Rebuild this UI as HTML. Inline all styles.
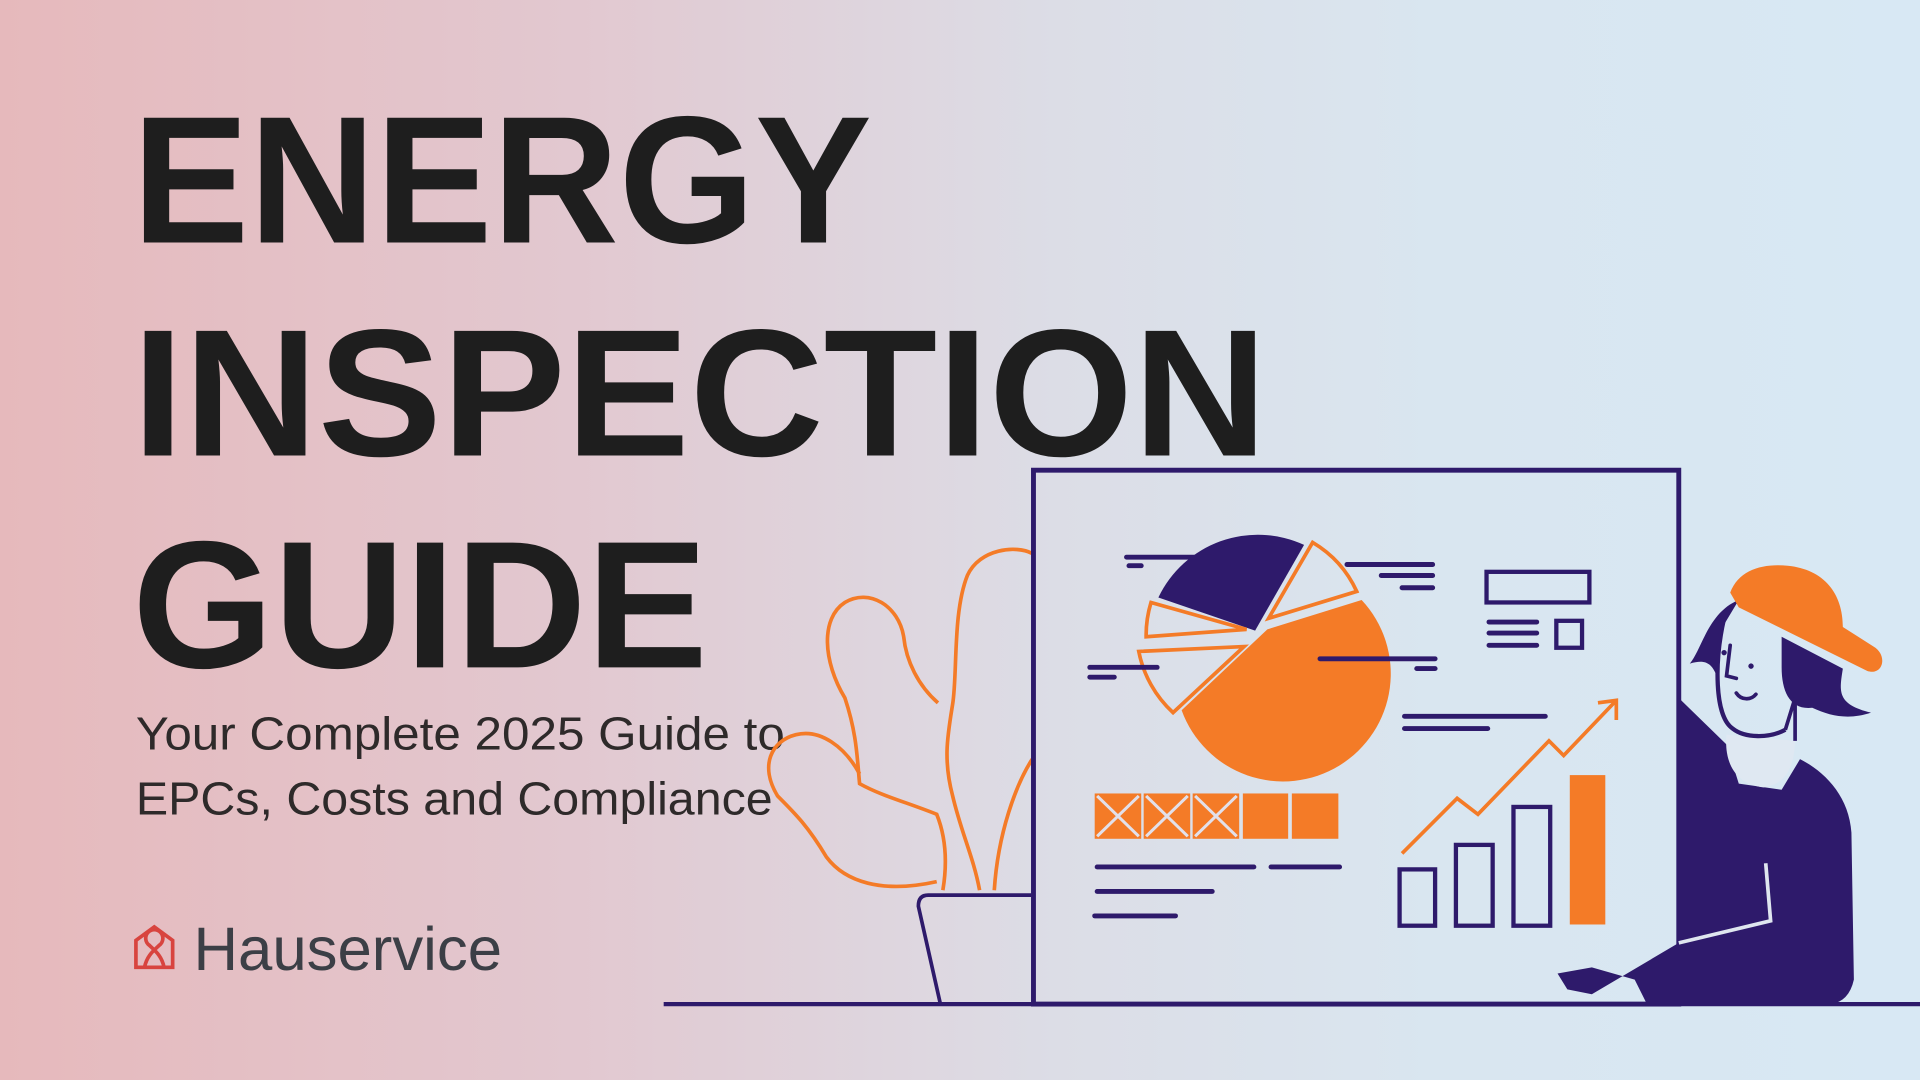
<!DOCTYPE html>
<html><head><meta charset="utf-8"><style>
html,body{margin:0;padding:0;width:1920px;height:1080px;overflow:hidden}
body{background:linear-gradient(90deg,#e6b9bc 0%,#e2c8d0 30%,#dcdde6 55%,#d9e6f0 75%,#d8e8f4 100%)}
svg{position:absolute;left:0;top:0}
</style></head><body>
<svg width="1920" height="1080" viewBox="0 0 1568 882" xmlns="http://www.w3.org/2000/svg">
<g font-family="Liberation Sans, sans-serif">
<text x="108" y="198" font-size="148" font-weight="bold" fill="#1e1e1e" textLength="604" lengthAdjust="spacingAndGlyphs">ENERGY</text>
<text x="108" y="372" font-size="148" font-weight="bold" fill="#1e1e1e" textLength="927" lengthAdjust="spacingAndGlyphs">INSPECTION</text>
<text x="108" y="545" font-size="148" font-weight="bold" fill="#1e1e1e" textLength="470" lengthAdjust="spacingAndGlyphs">GUIDE</text>
<text x="111" y="612" font-size="38" fill="#2e2a2a" textLength="530" lengthAdjust="spacingAndGlyphs">Your Complete 2025 Guide to</text>
<text x="111" y="665" font-size="38" fill="#2e2a2a" textLength="520" lengthAdjust="spacingAndGlyphs">EPCs, Costs and Compliance</text>
<text x="158" y="792" font-size="50" fill="#3c3f46" textLength="252" lengthAdjust="spacingAndGlyphs">Hauservice</text>
</g>
<g fill="none" stroke="#d8443f" stroke-width="3">
<path d="M111 790 V768 L126 757 L141 768 V790 Z"/>
<path d="M118 790 C120 780 126 776 130 772 A7 7 0 1 0 122 772 C126 776 132 780 134 790"/>
</g>
<!-- plant -->
<g fill="none" stroke="#f47b27" stroke-width="3">
<path d="M843 452 C830 445 800 448 790 470 C778 500 782 550 778 575 C774 600 770 620 778 650 C785 680 795 700 800 727"/>
<path d="M843 620 C830 640 815 680 812 727"/>
<path d="M766 574 C750 560 740 540 738 520 C734 495 710 480 690 492 C670 505 672 540 690 570 C700 600 700 620 702 640 C720 650 740 655 765 665 C775 690 772 715 770 727"/>
<path d="M702 632 C690 610 670 595 650 600 C630 605 620 625 635 650 C650 665 660 675 675 700 C690 720 720 730 765 720"/>
</g>
<!-- pot -->
<path d="M842 731 H758 Q750 731 750 740 L768 820" fill="none" stroke="#2e1a6b" stroke-width="3"/>
<!-- floor -->
<line x1="542" y1="820" x2="1568" y2="820" stroke="#2e1a6b" stroke-width="3.5"/>
<!-- board -->
<rect x="844" y="384" width="527" height="436" fill="none" stroke="#2e1a6b" stroke-width="4"/>
<!-- pie -->
<path d="M1025 515 L946 488 A90 90 0 0 1 1065 445 Z" fill="#2e1a6b"/>
<path d="M1035 514 L1112 490 A88 88 0 1 1 965 580 Z" fill="#f47b27"/>
<path d="M1036 505 L1072 443 A90 90 0 0 1 1108 483 Z" fill="none" stroke="#f47b27" stroke-width="3"/>
<path d="M1018 514 L940 492 A92 92 0 0 0 936 520 Z" fill="none" stroke="#f47b27" stroke-width="3"/>
<path d="M1016 528 L930 532 A92 92 0 0 0 958 582 Z" fill="none" stroke="#f47b27" stroke-width="3"/>
<g stroke="#2e1a6b" stroke-width="4" stroke-linecap="round">
<line x1="920" y1="455" x2="990" y2="455"/><line x1="922" y1="462" x2="932" y2="462"/>
<line x1="1100" y1="461" x2="1170" y2="461"/><line x1="1128" y1="470" x2="1170" y2="470"/><line x1="1145" y1="480" x2="1170" y2="480"/>
<line x1="890" y1="545" x2="945" y2="545"/><line x1="890" y1="553" x2="910" y2="553"/>
<line x1="1078" y1="538" x2="1172" y2="538"/><line x1="1157" y1="546" x2="1172" y2="546"/>
<line x1="1216" y1="508" x2="1255" y2="508"/><line x1="1216" y1="517" x2="1255" y2="517"/><line x1="1216" y1="527" x2="1255" y2="527"/>
<line x1="1147" y1="585" x2="1262" y2="585"/><line x1="1147" y1="595" x2="1215" y2="595"/>
<line x1="896" y1="708" x2="1024" y2="708"/><line x1="1038" y1="708" x2="1094" y2="708"/>
<line x1="896" y1="728" x2="990" y2="728"/><line x1="894" y1="748" x2="960" y2="748"/>
</g>
<g fill="none" stroke="#2e1a6b" stroke-width="3.5">
<rect x="1214" y="467" width="84" height="25"/><rect x="1271" y="507" width="21" height="22"/>
<rect x="1143" y="710" width="29" height="46"/><rect x="1189" y="690" width="30" height="66"/><rect x="1236" y="659" width="30" height="97"/>
</g>
<rect x="1282" y="633" width="29" height="122" fill="#f47b27"/>
<!-- orange bar row -->
<g fill="#f47b27"><rect x="894" y="648" width="38" height="37"/><rect x="934" y="648" width="38" height="37"/><rect x="974" y="648" width="38" height="37"/><rect x="1015" y="648" width="37" height="37"/><rect x="1055" y="648" width="38" height="37"/></g>
<g stroke="#e2e0ea" stroke-width="2.5"><path d="M896 650 L930 683 M930 650 L896 683 M936 650 L970 683 M970 650 L936 683 M976 650 L1010 683 M1010 650 L976 683"/></g>
<polyline points="1145,697 1190,652 1207,665 1265,605 1277,617 1320,572" fill="none" stroke="#f47b27" stroke-width="3"/>
<polyline points="1305,574 1320,572 1320,588" fill="none" stroke="#f47b27" stroke-width="3"/>
<!-- person -->
<path d="M1371 570 L1410 608 L1420 640 L1455 645 L1470 620 C1490 630 1510 650 1512 680 L1514 800 Q1510 818 1495 820 H1345 L1335 800 L1300 790 L1272 795 L1280 808 L1300 812 L1371 770 Z" fill="#2e1a6b"/>
<path d="M1371 770 L1446 752 L1442 705" fill="none" stroke="#dfe6ef" stroke-width="3"/>
<path d="M1410 600 C1408 620 1415 640 1440 643 C1460 640 1465 625 1466 605 Z" fill="#dfe8f2"/>
<path d="M1420 490 C1395 500 1390 530 1380 542 C1393 538 1398 542 1402 552 L1408 510 Z" fill="#2e1a6b"/>
<path d="M1408 505 C1400 540 1400 585 1415 595 C1425 603 1445 603 1458 596" fill="none" stroke="#2e1a6b" stroke-width="3.5"/>
<path d="M1455 520 L1505 546 C1502 565 1500 575 1528 582 C1510 588 1495 585 1480 578 C1462 580 1455 565 1455 545 Z" fill="#2e1a6b"/>
<path d="M1458 596 L1466 570 L1466 605" fill="none" stroke="#2e1a6b" stroke-width="3"/>
<path d="M1413 527 L1410 552 L1418 554 M1418 566 C1422 572 1430 572 1434 567" fill="none" stroke="#2e1a6b" stroke-width="3" stroke-linecap="round"/>
<circle cx="1430" cy="544" r="2.2" fill="#2e1a6b"/><circle cx="1408" cy="533" r="2.2" fill="#2e1a6b"/>
<path d="M1413 484 C1420 465 1440 460 1460 462 C1490 465 1505 485 1505 512 L1530 528 C1542 535 1538 552 1525 548 L1420 496 Z" fill="#f47b27"/>
</svg>
</body></html>
